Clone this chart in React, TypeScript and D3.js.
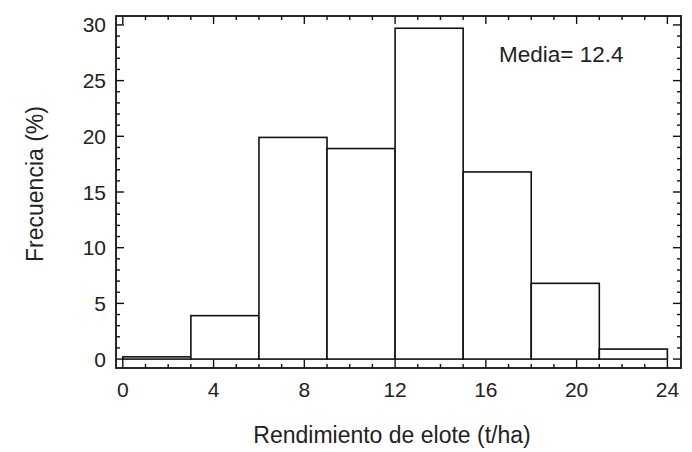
import React, { useEffect, useRef } from "react";
import * as d3 from "d3";

// histogram bins (t/ha) and their frequency in %
const binStarts = [0, 3, 6, 9, 12, 15, 18, 21];
const binWidth = 3;
const frequencies = [0.2, 3.9, 19.9, 18.9, 29.7, 16.8, 6.8, 0.9];

const xTicks = [0, 4, 8, 12, 16, 20, 24];
const yTicks = [0, 5, 10, 15, 20, 25, 30];
const xMinor = d3.range(0, 25, 1);
const yMinor = d3.range(0, 31, 1);

const meanLabel = "Media= 12.4";
const xTitle = "Rendimiento de elote (t/ha)";
const yTitle = "Frecuencia (%)";

const FONT = "'Liberation Sans', Arial, Helvetica, sans-serif";

const App: React.FC = () => {
  const svgRef = useRef<SVGSVGElement>(null);

  useEffect(() => {
    if (!svgRef.current) return;
    const width = 692;
    const height = 452;
    const left = 116;
    const right = 681;
    const top = 16;
    const bottom = 368;

    const svg = d3.select(svgRef.current);
    svg.selectAll("*").remove();
    svg.attr("width", width).attr("height", height);

    const x = d3.scaleLinear().domain([-0.3, 24.6]).range([left, right]);
    const y = d3.scaleLinear().domain([-0.8, 30.8]).range([bottom, top]);

    // bars
    svg
      .append("g")
      .selectAll("rect")
      .data(binStarts)
      .join("rect")
      .attr("x", (d) => x(d))
      .attr("width", (d) => x(d + binWidth) - x(d))
      .attr("y", (_, i) => y(frequencies[i]))
      .attr("height", (_, i) => y(0) - y(frequencies[i]))
      .attr("fill", "#fff")
      .attr("stroke", "#111")
      .attr("stroke-width", 1.6);

    // frame
    svg
      .append("rect")
      .attr("x", left)
      .attr("y", top)
      .attr("width", right - left)
      .attr("height", bottom - top)
      .attr("fill", "none")
      .attr("stroke", "#111")
      .attr("stroke-width", 1.8);

    const major = 8;
    const minor = 4;
    const ticks = svg.append("g").attr("stroke", "#111").attr("stroke-width", 1.4);

    // x ticks, bottom and top, pointing inward
    xMinor.forEach((v) => {
      const len = xTicks.includes(v) ? major : minor;
      ticks.append("line").attr("x1", x(v)).attr("x2", x(v)).attr("y1", bottom).attr("y2", bottom - len);
      ticks.append("line").attr("x1", x(v)).attr("x2", x(v)).attr("y1", top).attr("y2", top + len);
    });
    // y ticks, left and right
    yMinor.forEach((v) => {
      const len = yTicks.includes(v) ? major : minor;
      ticks.append("line").attr("x1", left).attr("x2", left + len).attr("y1", y(v)).attr("y2", y(v));
      ticks.append("line").attr("x1", right).attr("x2", right - len).attr("y1", y(v)).attr("y2", y(v));
    });

    const text = svg.append("g").attr("font-family", FONT).attr("fill", "#222");

    text
      .selectAll("text.xt")
      .data(xTicks)
      .join("text")
      .attr("class", "xt")
      .attr("x", (d) => x(d))
      .attr("y", 397)
      .attr("text-anchor", "middle")
      .attr("font-size", 21)
      .text((d) => d);

    text
      .selectAll("text.yt")
      .data(yTicks)
      .join("text")
      .attr("class", "yt")
      .attr("x", 106)
      .attr("y", (d) => y(d))
      .attr("dy", "0.36em")
      .attr("text-anchor", "end")
      .attr("font-size", 21)
      .text((d) => d);

    text
      .append("text")
      .attr("x", 392)
      .attr("y", 443)
      .attr("text-anchor", "middle")
      .attr("font-size", 23)
      .text(xTitle);

    text
      .append("text")
      .attr("transform", "translate(43,184) rotate(-90)")
      .attr("text-anchor", "middle")
      .attr("font-size", 23)
      .text(yTitle);

    text
      .append("text")
      .attr("x", 499)
      .attr("y", 62)
      .attr("font-size", 22.5)
      .text(meanLabel);
  }, []);

  return (
    <svg
      ref={svgRef}
      style={{ position: "absolute", left: 0, top: 0, background: "#fff" }}
    ></svg>
  );
};

export default App;
